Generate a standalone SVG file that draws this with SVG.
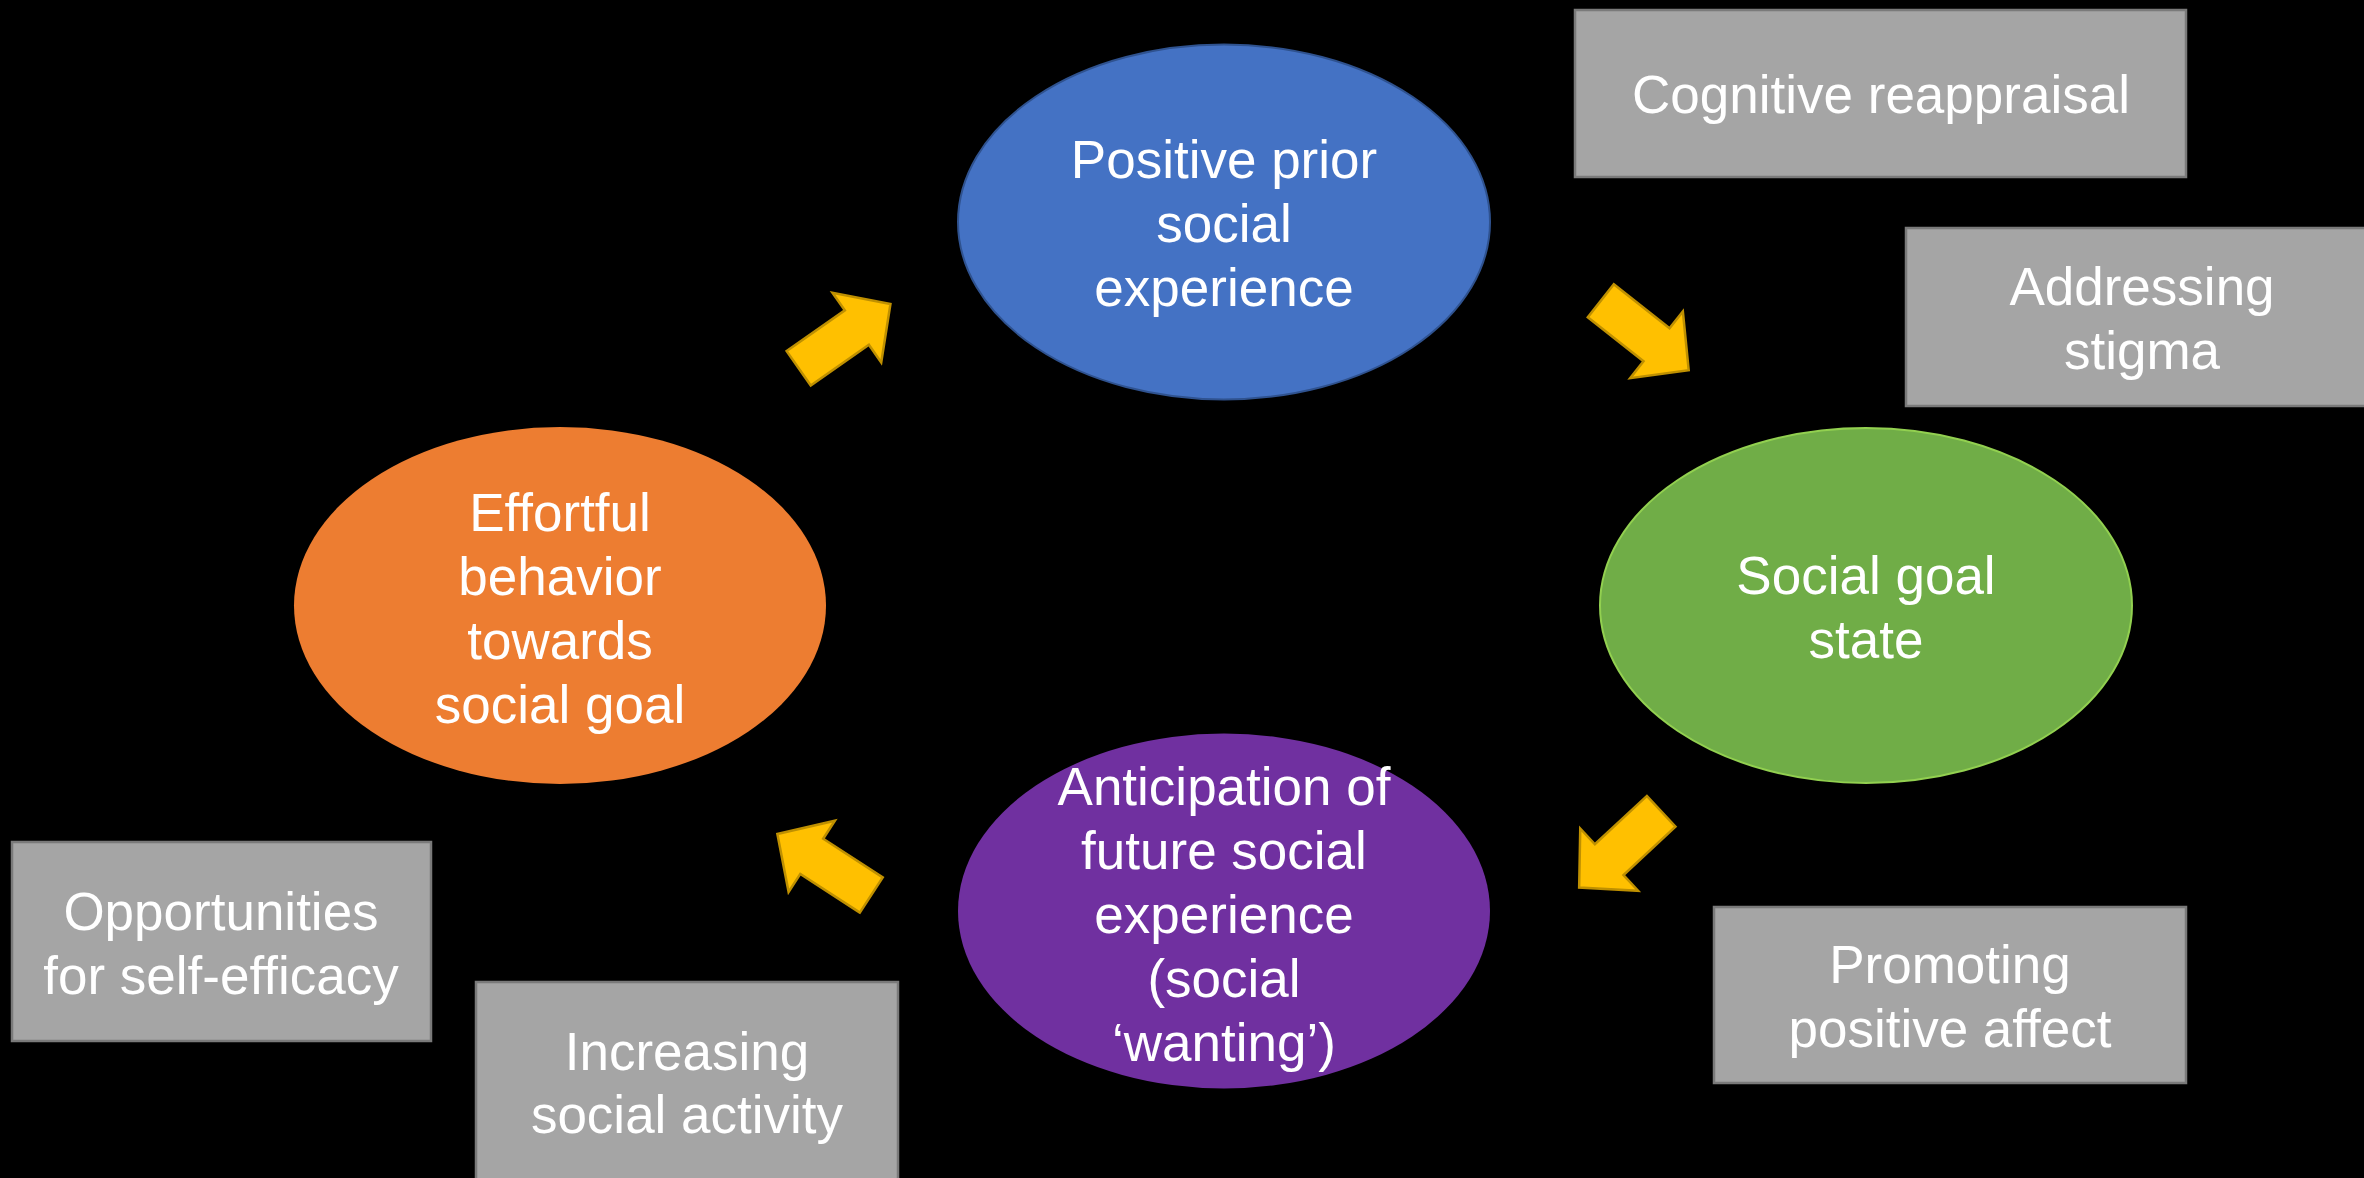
<svg xmlns="http://www.w3.org/2000/svg" width="2364" height="1178" viewBox="0 0 2364 1178">
  <style>
    .lbl { font-family: "Liberation Sans", Arial, sans-serif; font-size: 53px; fill: #FFFFFF; text-anchor: middle; }
    .box { fill: #A5A5A5; stroke: #7A7A7A; stroke-width: 2.5; }
    .arrow { fill: #FFC000; stroke: #BF9000; stroke-width: 2.5; stroke-linejoin: miter; }
  </style>
  <defs>
    <!-- block arrow pointing right, tail centre at origin -->
    <polygon id="blockArrow" points="0,-21 71,-21 71,-42.5 112,0 71,42.5 71,21 0,21"/>
  </defs>

  <rect x="0" y="0" width="2364" height="1178" fill="#000000"/>

  <!-- cycle connectors -->
  <g id="connectors">
    <use href="#blockArrow" class="arrow" transform="translate(798.7,368.3) rotate(-35)"/>
    <use href="#blockArrow" class="arrow" transform="translate(1600.8,300.8) rotate(38.3)"/>
    <use href="#blockArrow" class="arrow" transform="translate(1661.2,811.3) rotate(137.1)"/>
    <use href="#blockArrow" class="arrow" transform="translate(871.3,895) rotate(-147)"/>
  </g>

  <!-- cycle stages -->
  <g id="positive-prior">
    <ellipse cx="1224" cy="222" rx="266" ry="177.5" fill="#4472C4" stroke="#2F528F" stroke-width="2"/>
    <text class="lbl" x="1224" y="178">Positive prior<tspan x="1224" y="242">social</tspan><tspan x="1224" y="306">experience</tspan></text>
  </g>

  <g id="social-goal-state">
    <ellipse cx="1866" cy="605.5" rx="266" ry="177.5" fill="#70AD47" stroke="#92D050" stroke-width="2"/>
    <text class="lbl" x="1866" y="594">Social goal<tspan x="1866" y="658">state</tspan></text>
  </g>

  <g id="anticipation">
    <ellipse cx="1224" cy="911" rx="266" ry="177.5" fill="#7030A0"/>
    <text class="lbl" x="1224" y="805">Anticipation of<tspan x="1224" y="869">future social</tspan><tspan x="1224" y="933">experience</tspan><tspan x="1224" y="997">(social</tspan><tspan x="1224" y="1061">‘wanting’)</tspan></text>
  </g>

  <g id="effortful-behavior">
    <ellipse cx="560" cy="605.5" rx="266" ry="178.5" fill="#ED7D31"/>
    <text class="lbl" x="560" y="531">Effortful<tspan x="560" y="595">behavior</tspan><tspan x="560" y="659">towards</tspan><tspan x="560" y="723">social goal</tspan></text>
  </g>

  <!-- interventions -->
  <g id="cognitive-reappraisal">
    <rect class="box" x="1575" y="10" width="611" height="167"/>
    <text class="lbl" x="1881" y="113">Cognitive reappraisal</text>
  </g>

  <g id="addressing-stigma">
    <rect class="box" x="1906" y="228" width="472" height="178"/>
    <text class="lbl" x="2142" y="305">Addressing<tspan x="2142" y="369">stigma</tspan></text>
  </g>

  <g id="promoting-positive-affect">
    <rect class="box" x="1714" y="907" width="472" height="176"/>
    <text class="lbl" x="1950" y="983">Promoting<tspan x="1950" y="1047">positive affect</tspan></text>
  </g>

  <g id="opportunities-self-efficacy">
    <rect class="box" x="12" y="842" width="419" height="199"/>
    <text class="lbl" x="221" y="930">Opportunities<tspan x="221" y="994">for self-efficacy</tspan></text>
  </g>

  <g id="increasing-social-activity">
    <rect class="box" x="476" y="982" width="422" height="204"/>
    <text class="lbl" x="687" y="1070">Increasing<tspan x="687" y="1133">social activity</tspan></text>
  </g>
</svg>
